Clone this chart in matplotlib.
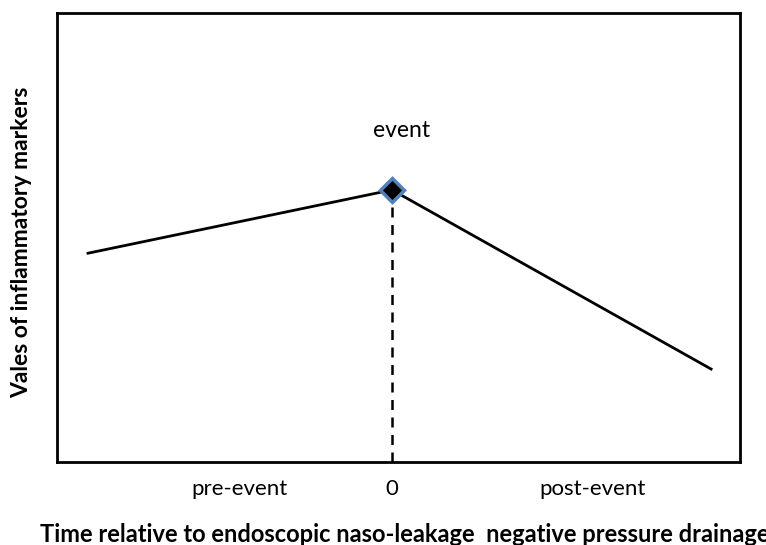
import matplotlib
matplotlib.use("Agg")
import matplotlib.pyplot as plt

# time positions (relative units) and marker values
x_vals = [-1.0, 0.0, 1.05]
y_vals = [4.65, 6.06, 2.07]
event_x = 0.0
event_y = 6.06

tick_pos = [-0.5, 0.0, 0.66]
tick_labels = ["pre-event", "0", "post-event"]

plt.rcParams['font.family'] = ['Lato', 'DejaVu Sans']

fig = plt.figure(figsize=(7.66, 5.45), dpi=100)
ax = fig.add_axes([57/766, (545-462)/545, (740-57)/766, (462-13)/545])

ax.plot(x_vals, y_vals, color="black", linewidth=2)
ax.plot([event_x, event_x], [0, event_y], color="black", linewidth=1.8, linestyle=(0, (4, 3)))
ax.plot([event_x], [event_y], marker="D", markersize=12, markerfacecolor="black",
        markeredgecolor="#4f81bd", markeredgewidth=2.5, linestyle="none")
ax.text(event_x + 0.03, 7.39, "event", ha="center", va="center", fontsize=16.5)

ax.set_xlim(-1.102, 1.145)
ax.set_ylim(0, 10)
ax.set_xticks(tick_pos)
ax.set_xticklabels(tick_labels, fontsize=16)
ax.set_yticks([])
ax.tick_params(axis="x", length=0, pad=12)
for s in ax.spines.values():
    s.set_linewidth(2)

fig.text(40/766, 1 - 535/545, "Time relative to endoscopic naso-leakage  negative pressure drainage",
         ha="left", va="center", fontsize=17, fontweight="bold")
fig.text(22/766, 1 - 242/545, "Vales of inflammatory markers", rotation=90,
         ha="center", va="center", fontsize=16.5, fontweight="bold")

fig.savefig("out.png", dpi=100)
